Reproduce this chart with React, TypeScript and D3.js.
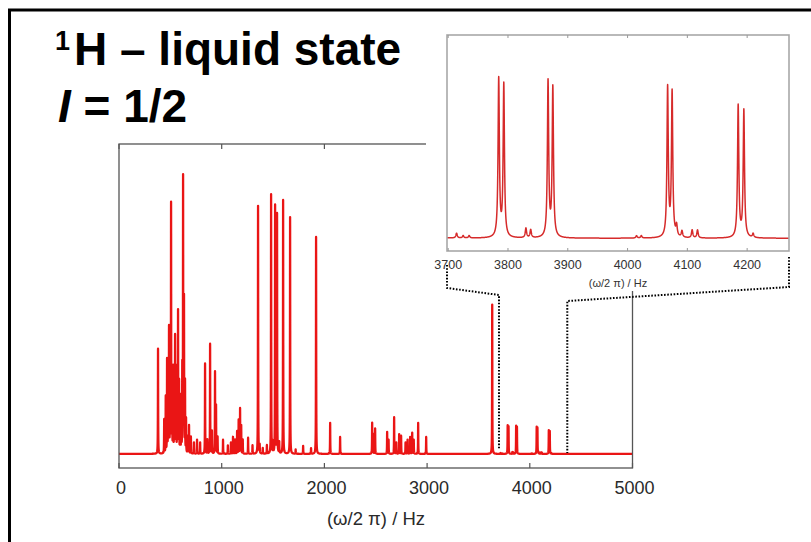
import React from "react";
import * as d3 from "d3";

// Peak list of the 1H spectrum (position in Hz, intensity in main-plot units)
const peakHz = [
  380, 440, 455, 468, 478, 487, 497, 507, 517, 527, 537, 546, 556, 566, 575, 585, 596, 606, 616, 624, 633, 643, 653,
  670, 682, 700, 730, 760, 790, 838, 860, 887, 905, 935, 945, 960, 1013, 1060, 1090, 1110, 1130, 1150, 1165, 1179,
  1190, 1205, 1257, 1300, 1354, 1370, 1400, 1440, 1481, 1500, 1520, 1539, 1560, 1598, 1666, 1720, 1793, 1870, 1919,
  2056, 2153, 2465, 2475, 2494, 2611, 2625, 2679, 2700, 2728, 2747, 2790, 2810, 2835, 2855, 2870, 2913, 2991, 3634,
  3714, 3725, 3735, 3784.5, 3793, 3830, 3838, 3867, 3875, 4015, 4023, 4067, 4074.5, 4082, 4091, 4108, 4117, 4185,
  4194.5, 4210,
];
const peakHeight = [
  0.373, 0.12, 0.2, 0.33, 0.25, 0.44, 0.3, 0.88, 0.25, 0.3, 0.2, 0.41, 0.3, 0.2, 0.5, 0.25, 0.2, 0.15, 0.3, 0.97, 0.54,
  0.25, 0.12, 0.06, 0.1, 0.06, 0.04, 0.05, 0.04, 0.32, 0.05, 0.39, 0.08, 0.29, 0.17, 0.06, 0.05, 0.03, 0.04, 0.06,
  0.05, 0.08, 0.12, 0.16, 0.1, 0.05, 0.057, 0.03, 0.88, 0.03, 0.02, 0.03, 0.92, 0.04, 0.88, 0.85, 0.04, 0.9, 0.84,
  0.015, 0.028, 0.02, 0.77, 0.11, 0.06, 0.11, 0.07, 0.09, 0.078, 0.05, 0.13, 0.04, 0.07, 0.064, 0.04, 0.05, 0.06,
  0.075, 0.05, 0.11, 0.06, 0.53, 0.003, 0.0015, 0.0015, 0.0996, 0.096, 0.006, 0.005, 0.098, 0.094, 0.0015, 0.0015,
  0.094, 0.091, 0.0065, 0.004, 0.005, 0.005, 0.083, 0.08, 0.0025,
];
const halfWidthHz = 1.3;

const mainTicks = [0, 1000, 2000, 3000, 4000, 5000];
const insetTicks = [3700, 3800, 3900, 4000, 4100, 4200];
const axisLabel = "(\u03C9/2 \u03C0) / Hz";

function spectrum(lo: number, hi: number, step: number): [number, number][] {
  const pts: [number, number][] = [];
  const n = Math.round((hi - lo) / step);
  for (let i = 0; i <= n; i++) {
    const f = lo + i * step;
    let s = 0;
    for (let k = 0; k < peakHz.length; k++) {
      const d = (f - peakHz[k]) / halfWidthHz;
      s += peakHeight[k] / (1 + d * d);
    }
    pts.push([f, s]);
  }
  return pts;
}

export default function App() {
  const W = 811;
  const H = 542;

  // main plot
  const mx = d3.scaleLinear().domain([0, 5000]).range([119, 632.5]);
  const my = d3.scaleLinear().domain([-0.05, 1.1]).range([468, 144]);
  const mainData = spectrum(0, 5000, 0.25);
  const mainLine = d3
    .line<[number, number]>()
    .x((d) => mx(d[0]))
    .y((d) => my(d[1]))(mainData) as string;

  // inset
  const ix = d3.scaleLinear().domain([3698, 4270]).range([447, 789]);
  const iy = d3.scaleLinear().domain([-0.008, 0.128]).range([251, 35]);
  const insetData = spectrum(3698, 4270, 0.1);
  const insetLine = d3
    .line<[number, number]>()
    .x((d) => ix(d[0]))
    .y((d) => iy(d[1]))(insetData) as string;

  const mTop = my.range()[1];
  const mBot = my.range()[0];
  const mL = mx.range()[0];
  const mR = mx.range()[1];
  const iTop = iy.range()[1];
  const iBot = iy.range()[0];
  const iL = ix.range()[0];
  const iR = ix.range()[1];

  const font = "'Liberation Sans', Arial, Helvetica, sans-serif";

  return (
    <div style={{ position: "fixed", left: 0, top: 0 }}>
      <svg width={W} height={H} style={{ display: "block", background: "#fff" }}>
        <defs>
          <clipPath id="mainClip">
            <rect x={mL} y={mTop} width={mR - mL} height={mBot - mTop} />
          </clipPath>
          <clipPath id="insetClip">
            <rect x={iL} y={iTop} width={iR - iL} height={iBot - iTop} />
          </clipPath>
        </defs>

        {/* outer frame */}
        <line x1={8} x2={W} y1={10} y2={10} stroke="#000" strokeWidth={3} />
        <line x1={9.5} x2={9.5} y1={9} y2={H} stroke="#000" strokeWidth={3} />

        {/* title */}
        <text x={55} y={50} fontFamily={font} fontWeight="bold" fontSize={27} fill="#000">
          1
        </text>
        <text x={74} y={65} fontFamily={font} fontWeight="bold" fontSize={46} fill="#000">
          H – liquid state
        </text>
        <text x={58} y={122} fontFamily={font} fontWeight="bold" fontSize={46} fill="#000">
          <tspan fontStyle="italic">I</tspan>
          <tspan> = 1/2</tspan>
        </text>

        {/* main plot */}
        <g clipPath="url(#mainClip)">
          <path d={mainLine} fill="none" stroke="#ea1515" strokeWidth={2.3} strokeLinejoin="round" />
        </g>
        <rect x={mL} y={mTop} width={mR - mL} height={mBot - mTop} fill="none" stroke="#555" strokeWidth={1.3} />
        {mainTicks.map((t) => (
          <g key={t}>
            <line x1={mx(t)} x2={mx(t)} y1={mBot} y2={mBot - 5} stroke="#555" strokeWidth={1.2} />
            <line x1={mx(t)} x2={mx(t)} y1={mTop} y2={mTop + 5} stroke="#555" strokeWidth={1.2} />
            <text x={mx(t) + 2} y={494} textAnchor="middle" fontFamily={font} fontSize={18} fill="#2a2a2a">
              {t}
            </text>
          </g>
        ))}
        <text x={376} y={525} textAnchor="middle" fontFamily={font} fontSize={18.5} fill="#2a2a2a">
          {axisLabel}
        </text>

        {/* white panel behind the inset */}
        <rect x={426} y={12} width={W - 426} height={279} fill="#fff" />

        {/* inset */}
        <g clipPath="url(#insetClip)">
          <path d={insetLine} fill="none" stroke="#d62b2b" strokeWidth={1.5} strokeLinejoin="round" />
        </g>
        <rect x={iL} y={iTop} width={iR - iL} height={iBot - iTop} fill="none" stroke="#a8a8a8" strokeWidth={1.6} />
        {insetTicks.map((t) => (
          <g key={t}>
            <line x1={ix(t)} x2={ix(t)} y1={iBot} y2={iBot - 3} stroke="#999" strokeWidth={1} />
            <line x1={ix(t)} x2={ix(t)} y1={iTop} y2={iTop + 3} stroke="#999" strokeWidth={1} />
            <text x={ix(t)} y={269} textAnchor="middle" fontFamily={font} fontSize={12.5} fill="#333">
              {t}
            </text>
          </g>
        ))}
        <text x={618} y={287} textAnchor="middle" fontFamily={font} fontSize={11} fill="#333">
          {axisLabel}
        </text>

        {/* dotted connector lines */}
        <polyline
          points={`${iL},265 ${iL},288 ${mx(3700)},295 ${mx(3700)},449`}
          fill="none"
          stroke="#000"
          strokeWidth={2}
          strokeDasharray="1.6 1.6"
        />
        <polyline
          points={`${iR},257 ${iR},287 ${mx(4365)},301 ${mx(4365)},453`}
          fill="none"
          stroke="#000"
          strokeWidth={2}
          strokeDasharray="1.6 1.6"
        />
      </svg>
    </div>
  );
}
